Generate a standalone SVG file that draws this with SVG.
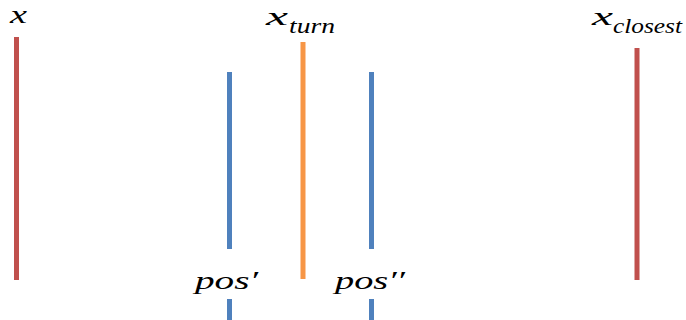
<svg xmlns="http://www.w3.org/2000/svg" width="686" height="320" viewBox="0 0 686 320">
<style>
.t{font-family:"Liberation Serif","DejaVu Serif",serif;font-style:italic;fill:#000}
.m{font-size:26px}
.s{font-size:21px}
.red{stroke:#C0504D;stroke-width:5}
.blue{stroke:#4F81BD;stroke-width:5}
.orange{stroke:#F79646;stroke-width:5}
</style>
<rect width="686" height="320" fill="#fff"/>
<g id="connectors">
<line class="red" x1="16.5" y1="37" x2="16.5" y2="280"/>
<line class="blue" x1="229.5" y1="72" x2="229.5" y2="249"/>
<line class="blue" x1="229.5" y1="299" x2="229.5" y2="320"/>
<line class="orange" x1="303" y1="42" x2="303" y2="279"/>
<line class="blue" x1="371.5" y1="72" x2="371.5" y2="249"/>
<line class="blue" x1="371.5" y1="299" x2="371.5" y2="320"/>
<line class="red" x1="637" y1="48" x2="637" y2="280"/>
</g>
<g id="label-x"><text class="t m" x="10" y="23" textLength="17" lengthAdjust="spacingAndGlyphs">x</text></g>
<g id="label-xturn"><text class="t m" x="266" y="25" textLength="22" lengthAdjust="spacingAndGlyphs">x</text><text class="t s" x="289" y="33" textLength="46" lengthAdjust="spacingAndGlyphs">turn</text></g>
<g id="label-xclosest"><text class="t m" x="592" y="25" textLength="21" lengthAdjust="spacingAndGlyphs">x</text><text class="t s" x="613" y="33" textLength="69" lengthAdjust="spacingAndGlyphs">closest</text></g>
<g id="label-pos1"><text class="t m" x="195" y="289" textLength="63" lengthAdjust="spacingAndGlyphs">pos′</text></g>
<g id="label-pos2"><text class="t m" x="335" y="289" textLength="70" lengthAdjust="spacingAndGlyphs">pos′′</text></g>
</svg>
